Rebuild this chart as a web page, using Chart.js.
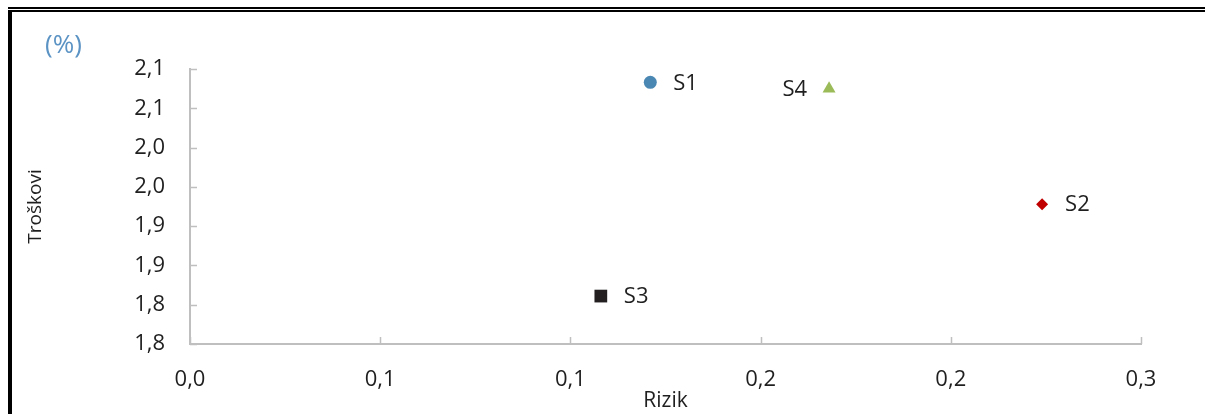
<!DOCTYPE html>
<html>
<head>
<meta charset="utf-8">
<script src="https://cdn.jsdelivr.net/npm/chart.js@4"></script>
<style>
  html, body { margin: 0; padding: 0; background: #fff; }
  #wrap { position: relative; width: 1205px; height: 414px; }
</style>
</head>
<body>
<div id="wrap"><canvas id="rizikChart" width="1205" height="414"></canvas></div>
<script>
// strategije: rizik (x) i troškovi (y, %)
const strategije = ['S1', 'S2', 'S3', 'S4'];
const rizik = [0.121, 0.224, 0.108, 0.168];
const troskovi = [2.083, 1.928, 1.811, 2.075];
const xTickLabels = ['0,0', '0,1', '0,1', '0,2', '0,2', '0,3'];
const yTickLabels = ['1,8', '1,8', '1,9', '1,9', '2,0', '2,0', '2,1', '2,1'];

const boje = ['#4a88b3', '#c00000', '#231f20', '#9bbb59'];
const oblici = ['circle', 'rectRot', 'rect', 'triangle'];
const velicine = [6.5, 6, 9, 7.5];
const labelLeft = [false, false, false, true]; // S4 ima oznaku s lijeve strane

const FONT = "'Open Sans', sans-serif";
const TEXT = '#1f1f1f';

// okvir oko slike
const okvir = {
  id: 'okvir',
  afterDraw(chart) {
    const c = chart.ctx;
    c.save();
    c.fillStyle = '#000';
    c.fillRect(8, 7, 1205, 2);
    c.fillRect(8, 10, 1205, 2);
    c.fillRect(8, 10, 4, 404);
    c.restore();
  }
};

// kratke oznake na osima (prema unutra)
const crtice = {
  id: 'crtice',
  afterDraw(chart) {
    const c = chart.ctx;
    const x = chart.scales.x, y = chart.scales.y;
    c.save();
    c.strokeStyle = '#bfbfbf';
    c.lineWidth = 1.5;
    c.beginPath();
    x.ticks.forEach((t, i) => {
      const px = Math.round(x.getPixelForTick(i)) + 0.5;
      c.moveTo(px, y.bottom);
      c.lineTo(px, y.bottom - 7);
    });
    y.ticks.forEach((t, i) => {
      const py = Math.round(y.getPixelForTick(i)) + 0.5;
      c.moveTo(x.left, py);
      c.lineTo(x.left + 7, py);
    });
    c.stroke();
    c.restore();
  }
};

// nazivi točaka i jedinica
const oznake = {
  id: 'oznake',
  afterDatasetsDraw(chart) {
    const c = chart.ctx;
    c.save();
    c.font = '22px ' + FONT;
    c.fillStyle = TEXT;
    c.textBaseline = 'middle';
    chart.data.datasets.forEach((ds, i) => {
      const pt = chart.getDatasetMeta(i).data[0];
      if (labelLeft[i]) {
        c.textAlign = 'right';
        c.fillText(ds.label, pt.x - 22, pt.y + 1);
      } else {
        c.textAlign = 'left';
        c.fillText(ds.label, pt.x + 23, pt.y + 1);
      }
    });
    c.font = '26px ' + FONT;
    c.fillStyle = '#5b93c4';
    c.textAlign = 'left';
    c.fillText('(%)', 45, 46);
    c.restore();
  }
};

new Chart(document.getElementById('rizikChart'), {
  type: 'scatter',
  data: {
    datasets: strategije.map((s, i) => ({
      label: s,
      data: [{ x: rizik[i], y: troskovi[i] }],
      pointStyle: oblici[i],
      pointRadius: velicine[i],
      pointBackgroundColor: boje[i],
      pointBorderColor: boje[i],
      pointBorderWidth: 0
    }))
  },
  options: {
    responsive: false,
    animation: false,
    layout: { padding: { left: 14, right: 64, top: 69, bottom: 0 } },
    plugins: { legend: { display: false }, tooltip: { enabled: false } },
    scales: {
      x: {
        type: 'linear',
        min: 0, max: 0.25,
        afterFit(s) { s.height = 70; },
        grid: { display: false, drawTicks: false },
        border: { color: '#bfbfbf', width: 2 },
        ticks: {
          stepSize: 0.05, padding: 23, color: TEXT,
          font: { family: FONT, size: 22 },
          callback: (v, i) => xTickLabels[i]
        },
        title: {
          display: true, text: 'Rizik', color: TEXT,
          font: { family: FONT, size: 21 },
          padding: { top: 0, bottom: 0 }
        }
      },
      y: {
        type: 'linear',
        min: 1.75, max: 2.10,
        afterFit(s) { s.width = 176; },
        grid: { display: false, drawTicks: false },
        border: { color: '#bfbfbf', width: 2 },
        ticks: {
          stepSize: 0.05, padding: 25, color: TEXT,
          font: { family: FONT, size: 22 },
          callback: (v, i) => yTickLabels[i]
        },
        title: {
          display: true, text: 'Troškovi', color: TEXT,
          font: { family: FONT, size: 19 },
          padding: { top: 10, bottom: 0 }
        }
      }
    }
  },
  plugins: [okvir, crtice, oznake]
});
</script>
</body>
</html>
